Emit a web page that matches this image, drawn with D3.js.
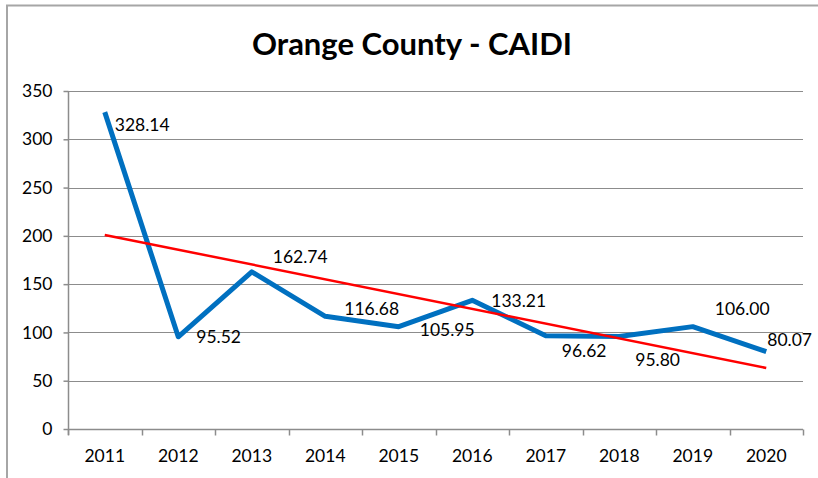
<!DOCTYPE html>
<html>
<head>
<meta charset="utf-8">
<script src="https://cdn.jsdelivr.net/npm/d3@7/dist/d3.min.js"></script>
<style>
  html, body { margin: 0; padding: 0; background: #fff; }
  svg { display: block; font-family: Lato, "Open Sans", sans-serif; }
</style>
</head>
<body>
<svg id="chart" width="818" height="478"></svg>
<script>
// CAIDI by year, Orange County
const years = ["2011", "2012", "2013", "2014", "2015", "2016", "2017", "2018", "2019", "2020"];
const caidi = [328.14, 95.52, 162.74, 116.68, 105.95, 133.21, 96.62, 95.80, 106.00, 80.07];
// Linear trend line, first and last year
const trendYears = ["2011", "2020"];
const trendValues = [200.97, 63.17];
const yTicks = [0, 50, 100, 150, 200, 250, 300, 350];

// Data label offsets from each point (text start, baseline)
const labelDx = [10, 18, 21, 19, 21, 19, 16, 16, 22, 1];
const labelDy = [18.5, 6.5, -8.5, -1.5, 9.5, 6.5, 21, 30, -11.5, -5.5];

const svg = d3.select("#chart");
const plot = { left: 68, right: 803, top: 91, bottom: 429 };

const x = d3.scaleBand().domain(years).range([plot.left, plot.right]);
const y = d3.scaleLinear().domain([0, 350]).range([plot.bottom, plot.top]);
const cx = d => x(d) + x.bandwidth() / 2;

// Chart frame (left and top edges)
svg.append("path")
  .attr("d", "M7,478 L7,5.5 L818,5.5")
  .attr("fill", "none")
  .attr("stroke", "#a6a6a6")
  .attr("stroke-width", 2);

// Title
svg.append("text")
  .attr("x", 412).attr("y", 55)
  .attr("text-anchor", "middle")
  .attr("font-size", 31).attr("font-weight", "bold")
  .attr("fill", "#000")
  .text("Orange County - CAIDI");

// Horizontal gridlines
svg.append("g").selectAll("line")
  .data(yTicks.filter(t => t > 0))
  .join("line")
  .attr("x1", plot.left).attr("x2", plot.right)
  .attr("y1", d => Math.round(y(d)) + 0.5).attr("y2", d => Math.round(y(d)) + 0.5)
  .attr("stroke", "#8c8c8c").attr("stroke-width", 1.2);

// Y axis
const yAxis = svg.append("g")
  .attr("transform", `translate(${plot.left + 0.5},0)`)
  .call(d3.axisLeft(y).tickValues(yTicks).tickSize(5).tickPadding(11).tickSizeOuter(0));
yAxis.select(".domain").attr("stroke", "#8c8c8c").attr("stroke-width", 1.5)
  .attr("d", `M0,${plot.top}V${plot.bottom + 6}`);
yAxis.selectAll(".tick line").attr("stroke", "#8c8c8c").attr("stroke-width", 1.5);
yAxis.selectAll(".tick text").attr("font-size", 17.5).attr("fill", "#000")
  .attr("font-family", "Lato, sans-serif");

// X axis with ticks at category boundaries
const xAxisG = svg.append("g").attr("transform", `translate(0,${plot.bottom + 0.5})`);
xAxisG.append("line")
  .attr("x1", plot.left).attr("x2", plot.right)
  .attr("stroke", "#8c8c8c").attr("stroke-width", 1.5);
const bounds = years.map(d => x(d)).concat([x(years[years.length - 1]) + x.bandwidth()]);
xAxisG.selectAll("line.tk").data(bounds).join("line").attr("class", "tk")
  .attr("x1", d => Math.round(d) + 0.5).attr("x2", d => Math.round(d) + 0.5)
  .attr("y1", 0).attr("y2", 6)
  .attr("stroke", "#8c8c8c").attr("stroke-width", 1.5);
xAxisG.selectAll("text").data(years).join("text")
  .attr("x", d => cx(d)).attr("y", 32.5)
  .attr("text-anchor", "middle")
  .attr("font-size", 17.5).attr("fill", "#000")
  .text(d => d);

// CAIDI line
const line = d3.line().x(d => cx(d[0])).y(d => y(d[1]));
svg.append("path")
  .datum(years.map((d, i) => [d, caidi[i]]))
  .attr("d", line)
  .attr("fill", "none")
  .attr("stroke", "#0070c0")
  .attr("stroke-width", 5)
  .attr("stroke-linejoin", "round");

// Trend line
svg.append("path")
  .datum(trendYears.map((d, i) => [d, trendValues[i]]))
  .attr("d", line)
  .attr("fill", "none")
  .attr("stroke", "#ff0000")
  .attr("stroke-width", 2.5);

// Data labels
svg.append("g").selectAll("text")
  .data(years)
  .join("text")
  .attr("x", (d, i) => cx(d) + labelDx[i])
  .attr("y", (d, i) => y(caidi[i]) + labelDy[i])
  .attr("font-size", 17.5).attr("fill", "#000")
  .text((d, i) => caidi[i].toFixed(2));
</script>
</body>
</html>
